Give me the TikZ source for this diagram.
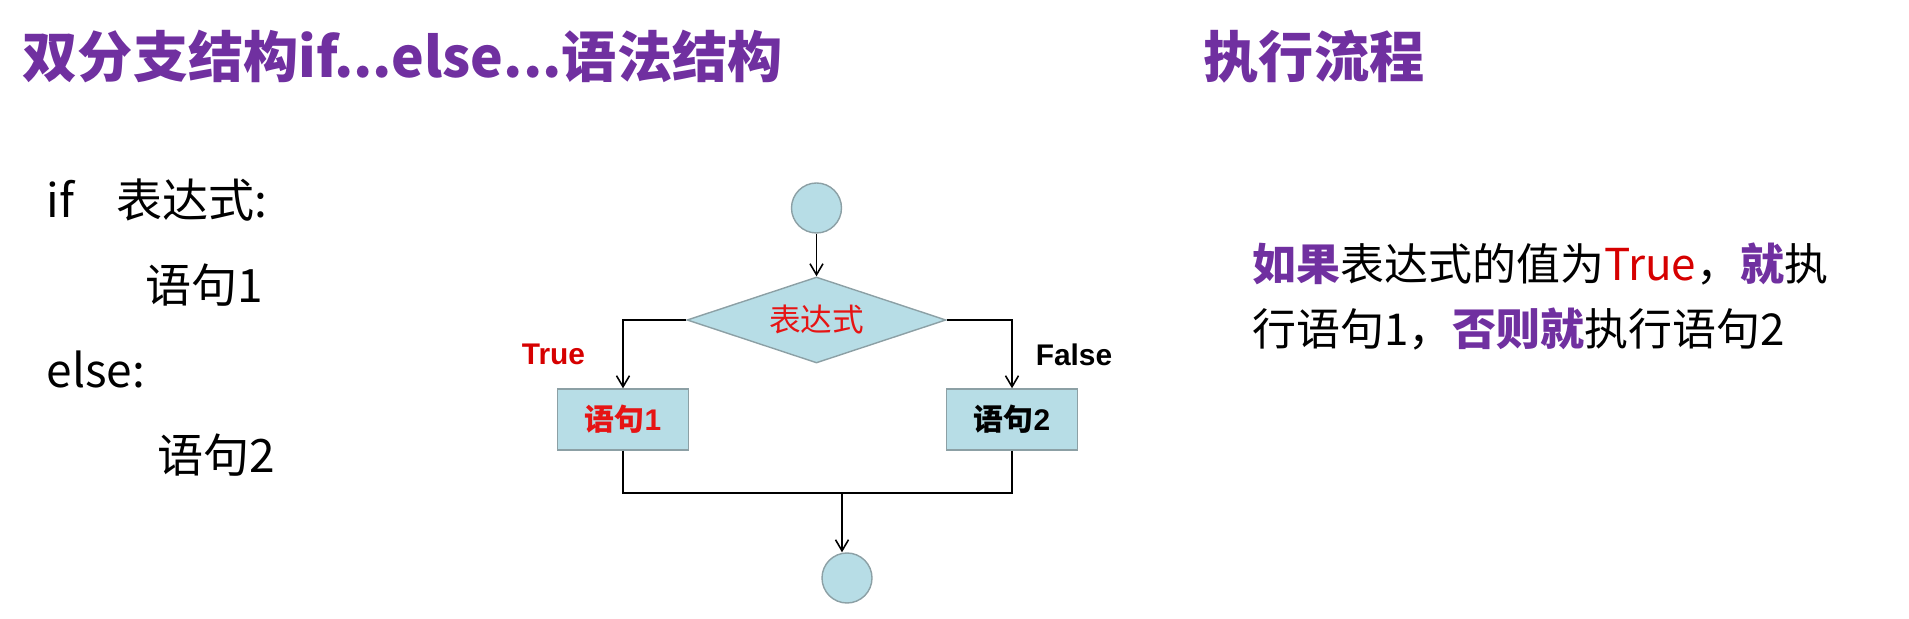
\documentclass[tikz,border=0pt]{standalone}
\usepackage{fontspec}
\setmainfont{Noto Sans CJK SC}
\newfontfamily\arialfont{Liberation Sans}
\usepackage{xcolor}
\usepackage{tikz}
\usetikzlibrary{
    arrows.meta,
    shapes.geometric
}
\definecolor{titlepurple}{RGB}{112,48,160}
\definecolor{chartblue}{RGB}{183,221,230}
\definecolor{chartedge}{RGB}{140,160,165}
\definecolor{truered}{RGB}{214,0,0}
\definecolor{exprred}{RGB}{230,20,20}
\tikzset
{
  terminal/.style={circle,draw=chartedge,fill=chartblue,minimum size=0.5cm,inner sep=0pt},
  decision/.style={diamond,draw=chartedge,fill=chartblue,aspect=3,minimum width=2.59cm,minimum height=0.86cm,inner sep=0pt,font=\fontsize{9}{10}\selectfont},
  process/.style={rectangle,draw=chartedge,fill=chartblue,minimum width=1.31cm,minimum height=0.61cm,inner sep=0pt,font=\fontsize{8.5}{10}\selectfont},
  flowline/.style={draw=black,line width=0.45pt},
  flowarrow/.style={flowline,-{Straight Barb[length=1.1mm,width=1.3mm]}},
  heading/.style={anchor=west,inner sep=0pt,text=titlepurple,font=\fontsize{15.7}{18}\selectfont\bfseries},
  codeline/.style={anchor=base west,inner sep=0pt,font=\fontsize{13.1}{16}\selectfont},
  explain/.style={anchor=base west,inner sep=0pt,font=\fontsize{12.5}{16}\selectfont},
  branchlabel/.style={inner sep=0pt,font=\fontsize{8.5}{10}\selectfont\arialfont\bfseries}
}

\begin{document}
\begin{tikzpicture}
        \useasboundingbox (0,0) rectangle (19.09,6.18);

        % Headings
        \node[heading] (title) at (0.22,5.615) {双分支结构if...else...语法结构};
        \node[heading] (flowtitle) at (12.03,5.615) {执行流程};

        % Syntax on the left
        \node[codeline] (kwif) at (0.46,4.00) {if};
        \node[codeline] (ifexpr) at (1.16,4.00) {表达式:};
        \node[codeline] (stmtone) at (1.45,3.15) {语句1};
        \node[codeline] (kwelse) at (0.46,2.30) {else:};
        \node[codeline] (stmttwo) at (1.57,1.45) {语句2};

        % Flow chart
        \node[terminal] (start) at (8.165,4.10) {};
        \node[decision] (cond) at (8.165,2.98) {\textcolor{exprred}{表达式}};
        \node[process] (blockone) at (6.23,1.985) {\textcolor{exprred}{\bfseries 语句{\arialfont 1}}};
        \node[process] (blocktwo) at (10.12,1.985) {\bfseries 语句{\arialfont 2}};
        \node[terminal] (stop) at (8.47,0.40) {};
        \coordinate (merge) at (8.42,1.25);

        % Connectors
        \draw[flowarrow] (start) -- (cond);
        \draw[flowarrow] (cond.west) -| (blockone.north);
        \draw[flowarrow] (cond.east) -| (blocktwo.north);
        \draw[flowline] (blockone.south) |- (merge);
        \draw[flowline] (blocktwo.south) |- (merge);
        \draw[flowarrow] (merge) -- (merge |- stop.north);

        % Branch labels
        \node[branchlabel,text=truered] (truelabel) at (5.535,2.635) {True};
        \node[branchlabel] (falselabel) at (10.74,2.635) {False};

        % Explanation on the right
        \node[explain] (lineone) at (12.52,3.37) {\textcolor{titlepurple}{\bfseries 如果}表达式的值为\textcolor{truered}{True}，\textcolor{titlepurple}{\bfseries 就}执};
        \node[explain] (linetwo) at (12.52,2.72) {行语句1，\textcolor{titlepurple}{\bfseries 否则就}执行语句2};
    \end{tikzpicture}
\end{document}
